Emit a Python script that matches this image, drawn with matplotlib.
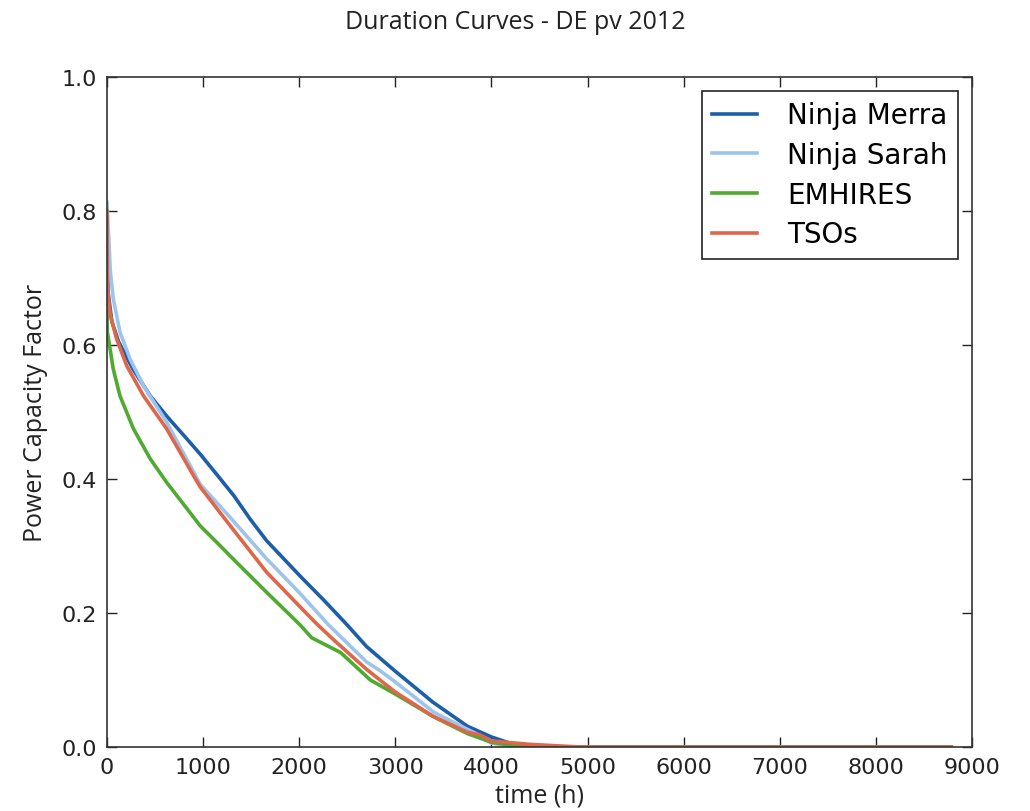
import matplotlib
matplotlib.use("Agg")
import matplotlib.pyplot as plt

# sorted hourly capacity factors, sampled along the duration axis (hours)
merra_t = [0, 10, 50, 120, 270, 450, 620, 830, 970, 1180, 1320, 1490, 1660,
           2010, 2250, 2500, 2700, 3000, 3390, 3750, 4000, 4270, 4600, 8784]
merra_v = [0.77, 0.68, 0.635, 0.605, 0.564, 0.524, 0.494, 0.46, 0.437, 0.40,
           0.375, 0.340, 0.308, 0.255, 0.220, 0.182, 0.150, 0.113, 0.067,
           0.031, 0.015, 0.002, 0.0, 0.0]

sarah_t = [0, 35, 65, 135, 240, 380, 620, 970, 1310, 1660, 2010, 2300, 2700,
           2840, 3000, 3400, 3535, 3880, 4000, 4200, 8784]
sarah_v = [0.813, 0.709, 0.669, 0.619, 0.579, 0.539, 0.485, 0.392, 0.338,
           0.281, 0.229, 0.183, 0.127, 0.114, 0.097, 0.052, 0.042, 0.017,
           0.006, 0.0, 0.0]

emhires_t = [0, 3, 65, 135, 275, 450, 620, 970, 1180, 1310, 1660, 2010, 2130,
             2430, 2740, 3000, 3400, 3750, 4000, 4300, 4600, 8784]
emhires_v = [0.665, 0.62, 0.564, 0.524, 0.475, 0.43, 0.395, 0.33, 0.30,
             0.281, 0.231, 0.182, 0.163, 0.141, 0.100, 0.079, 0.045, 0.020,
             0.007, 0.001, 0.0, 0.0]

tso_t = [0, 5, 35, 100, 205, 380, 620, 900, 970, 1310, 1660, 2010, 2180, 2350,
         2700, 2840, 3000, 3390, 3750, 3880, 4000, 4400, 4920, 8784]
tso_v = [0.80, 0.684, 0.644, 0.609, 0.569, 0.524, 0.475, 0.405, 0.388, 0.325,
         0.261, 0.209, 0.184, 0.161, 0.116, 0.100, 0.082, 0.046, 0.022, 0.018,
         0.009, 0.004, 0.0, 0.0]

series = [
    ("Ninja Merra", merra_t, merra_v, "#1c5ea8"),
    ("Ninja Sarah", sarah_t, sarah_v, "#9dc4ea"),
    ("EMHIRES", emhires_t, emhires_v, "#4eaa30"),
    ("TSOs", tso_t, tso_v, "#e0664a"),
]

fig = plt.figure(figsize=(10.3, 8.12), dpi=100)
ax = fig.add_axes([0.1039, 0.0788, 0.8398, 0.8252])

for name, t, v, c in series:
    ax.plot(t, v, color=c, lw=2.6, label=name)

ax.set_xlim(0, 9000)
ax.set_ylim(0, 1.0)
ax.set_xticks(range(0, 9001, 1000))
ax.set_yticks([0.0, 0.2, 0.4, 0.6, 0.8, 1.0])
ax.set_yticklabels(["0.0", "0.2", "0.4", "0.6", "0.8", "1.0"])
ax.tick_params(direction="in", top=True, right=True, length=7, width=1,
               labelsize=16, colors="#222222", pad=7)
for s in ax.spines.values():
    s.set_color("#333333")
    s.set_linewidth(1.2)

ax.set_xlabel("time (h)", fontsize=18, family="Open Sans", color="#222222",
              labelpad=4)
ax.set_ylabel("Power Capacity Factor", fontsize=18, family="Open Sans",
              color="#222222", labelpad=10)
fig.text(0.5, 0.972, "Duration Curves - DE pv 2012", ha="center", va="center",
         fontsize=18, family="Open Sans", color="#222222")

leg = ax.legend(loc="upper right", fontsize=20, handlelength=1.6,
                handletextpad=1.1, labelspacing=0.42, borderpad=0.38,
                fancybox=False, framealpha=1)
leg.get_frame().set_edgecolor("#222222")
leg.get_frame().set_linewidth(1.2)

fig.savefig("out.png", dpi=100)
